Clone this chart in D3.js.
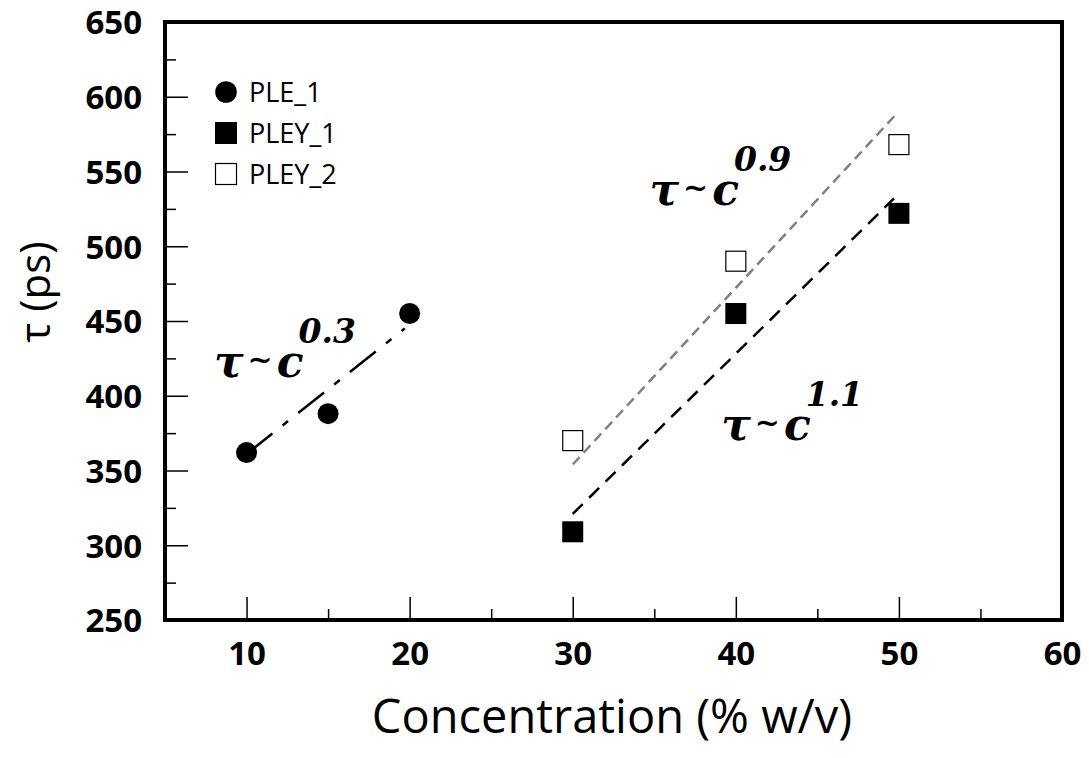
<!DOCTYPE html>
<html>
<head>
<meta charset="utf-8">
<script src="https://cdn.jsdelivr.net/npm/d3@7"></script>
<style>
  html, body { margin: 0; padding: 0; background: #fff; }
  svg { display: block; }
</style>
</head>
<body>
<svg id="chart" width="1089" height="758"></svg>
<script>
// ---- data ----
const seriesNames = ["PLE_1", "PLEY_1", "PLEY_2"];
const pleX = [10, 15, 20];
const pleY = [362, 388, 455];
const pley1X = [30, 40, 50];
const pley1Y = [309, 455, 522];
const pley2X = [30, 40, 50];
const pley2Y = [370, 490, 568];
// fitted power-law guide lines (endpoints)
const fitPLE1 = [[10, 361], [19.7, 445]];
const fitPLEY1 = [[30, 321], [49.7, 532]];
const fitPLEY2 = [[30, 354], [49.8, 588]];
const exponents = ["0.3", "0.9", "1.1"];
const annotAt = [[8.0, 412.5], [34.7, 527.6], [39.1, 370.4]];
const xMajor = [10, 20, 30, 40, 50, 60];
const xMinor = [15, 25, 35, 45, 55];
const yMajor = [250, 300, 350, 400, 450, 500, 550, 600, 650];
const yMinor = [275, 325, 375, 425, 475, 525, 575, 625];
const xTitle = "Concentration (% w/v)";
const yTitle = "τ (ps)";

// ---- layout ----
const L = 165, R = 1062, T = 22, B = 620;
const svg = d3.select("#chart");
const x = d3.scaleLinear().domain([5, 60]).range([L, R]);
const y = d3.scaleLinear().domain([250, 650]).range([B, T]);
const tickFont = "'Open Sans', sans-serif";

// axes (ticks point inward)
const gxMinor = svg.append("g").attr("transform", `translate(0,${B})`)
  .call(d3.axisBottom(x).tickValues(xMinor).tickSize(-11).tickFormat(""));
const gx = svg.append("g").attr("transform", `translate(0,${B})`)
  .call(d3.axisBottom(x).tickValues(xMajor).tickSize(-23).tickPadding(22).tickFormat(d3.format("d")));
const gyMinor = svg.append("g").attr("transform", `translate(${L},0)`)
  .call(d3.axisLeft(y).tickValues(yMinor).tickSize(-11).tickFormat(""));
const gy = svg.append("g").attr("transform", `translate(${L},0)`)
  .call(d3.axisLeft(y).tickValues(yMajor).tickSize(-23).tickPadding(23).tickFormat(d3.format("d")));

[gx, gy, gxMinor, gyMinor].forEach(g => {
  g.select(".domain").remove();
  g.selectAll(".tick line").attr("stroke", "#000").attr("stroke-width", 1.5);
  g.selectAll(".tick text")
    .attr("fill", "#000")
    .style("font-family", tickFont)
    .style("font-weight", "700")
    .style("font-size", "33px");
});
gy.selectAll(".tick text").attr("dy", "0.36em");

// frame
svg.append("rect")
  .attr("x", L).attr("y", T).attr("width", R - L).attr("height", B - T)
  .attr("fill", "none").attr("stroke", "#000").attr("stroke-width", 4);

// titles
svg.append("text")
  .attr("x", 612).attr("y", 733)
  .attr("text-anchor", "middle")
  .style("font-family", tickFont).style("font-size", "47px").attr("fill", "#000")
  .text(xTitle);
svg.append("text")
  .attr("transform", "translate(50,292) rotate(-90)")
  .attr("text-anchor", "middle")
  .style("font-family", tickFont).style("font-size", "42px").attr("fill", "#000")
  .text(yTitle);

// fit lines
const line = d3.line().x(d => x(d[0])).y(d => y(d[1]));
svg.append("path").attr("d", line(fitPLE1))
  .attr("fill", "none").attr("stroke", "#000").attr("stroke-width", 2.5)
  .attr("stroke-dasharray", "33,13,7,13");
svg.append("path").attr("d", line(fitPLEY2))
  .attr("fill", "none").attr("stroke", "#808080").attr("stroke-width", 2.5)
  .attr("stroke-dasharray", "10,6");
svg.append("path").attr("d", line(fitPLEY1))
  .attr("fill", "none").attr("stroke", "#000").attr("stroke-width", 2.5)
  .attr("stroke-dasharray", "14,9");

// markers
const sq = 21;
svg.append("g").selectAll("circle").data(d3.zip(pleX, pleY)).join("circle")
  .attr("cx", d => x(d[0])).attr("cy", d => y(d[1])).attr("r", 10.5)
  .attr("fill", "#000");
svg.append("g").selectAll("rect").data(d3.zip(pley1X, pley1Y)).join("rect")
  .attr("x", d => x(d[0]) - sq / 2).attr("y", d => y(d[1]) - sq / 2)
  .attr("width", sq).attr("height", sq).attr("fill", "#000");
svg.append("g").selectAll("rect").data(d3.zip(pley2X, pley2Y)).join("rect")
  .attr("x", d => x(d[0]) - sq / 2 + 0.5).attr("y", d => y(d[1]) - sq / 2 + 0.5)
  .attr("width", sq - 1).attr("height", sq - 1)
  .attr("fill", "#fff").attr("stroke", "#000").attr("stroke-width", 1.2);

// annotations τ ~ c^n
const annFont = "'DejaVu Serif', serif";
exponents.forEach((e, i) => {
  const t = svg.append("text")
    .attr("x", x(annotAt[i][0])).attr("y", y(annotAt[i][1]))
    .style("font-family", annFont).style("font-weight", "700").style("font-style", "italic")
    .style("font-size", "44px").attr("fill", "#000");
  t.append("tspan").text("τ");
  t.append("tspan").attr("dx", 4).attr("dy", -7).style("font-size", "30px").text("~");
  t.append("tspan").attr("dx", 4).attr("dy", 7).text("c");
  t.append("tspan").attr("dx", -5).attr("dy", -34).style("font-size", "33px").text(e);
});

// legend
const lg = svg.append("g");
const legY = [92, 133, 174];
lg.append("circle").attr("cx", 226).attr("cy", legY[0]).attr("r", 10.8).attr("fill", "#000");
lg.append("rect").attr("x", 226 - 11).attr("y", legY[1] - 11).attr("width", 22).attr("height", 22).attr("fill", "#000");
lg.append("rect").attr("x", 226 - 10.5).attr("y", legY[2] - 10.5).attr("width", 21).attr("height", 21)
  .attr("fill", "#fff").attr("stroke", "#000").attr("stroke-width", 1.2);
seriesNames.forEach((n, i) => {
  lg.append("text").attr("x", 249).attr("y", legY[i] + 10)
    .style("font-family", tickFont).style("font-size", "27px").attr("fill", "#000")
    .text(n);
});
</script>
</body>
</html>
